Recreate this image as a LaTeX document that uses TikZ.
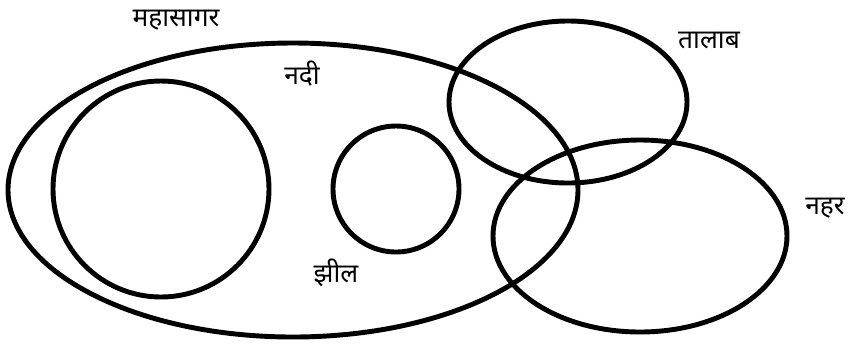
\documentclass[tikz,border=0pt]{standalone}
\usepackage{fontspec}
\newfontfamily\hindi[Script=Devanagari]{Noto Sans}
\usepackage{tikz}
\usepackage{xcolor}

\begin{document}
\begin{tikzpicture}[x=0.02cm, y=-0.02cm,
    set/.style={line width=2.8pt},
    lbl/.style={font=\hindi\fontsize{15}{17}\selectfont, inner sep=0pt}]
	\useasboundingbox (0,0) rectangle (852,343);
	
	% River (big ellipse)
	\draw[set] (293,190) ellipse [x radius=285, y radius=147];
	\node[lbl] (river) at (302,74) {नदी};
	
	% Ocean
	\draw[set] (161,189) circle [radius=108];
	\node[lbl] (ocean) at (176,20) {महासागर};
	
	% Lake
	\draw[set] (396,189) circle [radius=63];
	\node[lbl] (lake) at (336,273) {झील};
	
	% Pond
	\draw[set] (568,102) ellipse [x radius=119, y radius=81];
	\node[lbl] (pond) at (709,40) {तालाब};
	
	% Canal
	\draw[set] (640,236) ellipse [x radius=147, y radius=96];
	\node[lbl] (canal) at (825,208) {नहर};
\end{tikzpicture}
\end{document}
